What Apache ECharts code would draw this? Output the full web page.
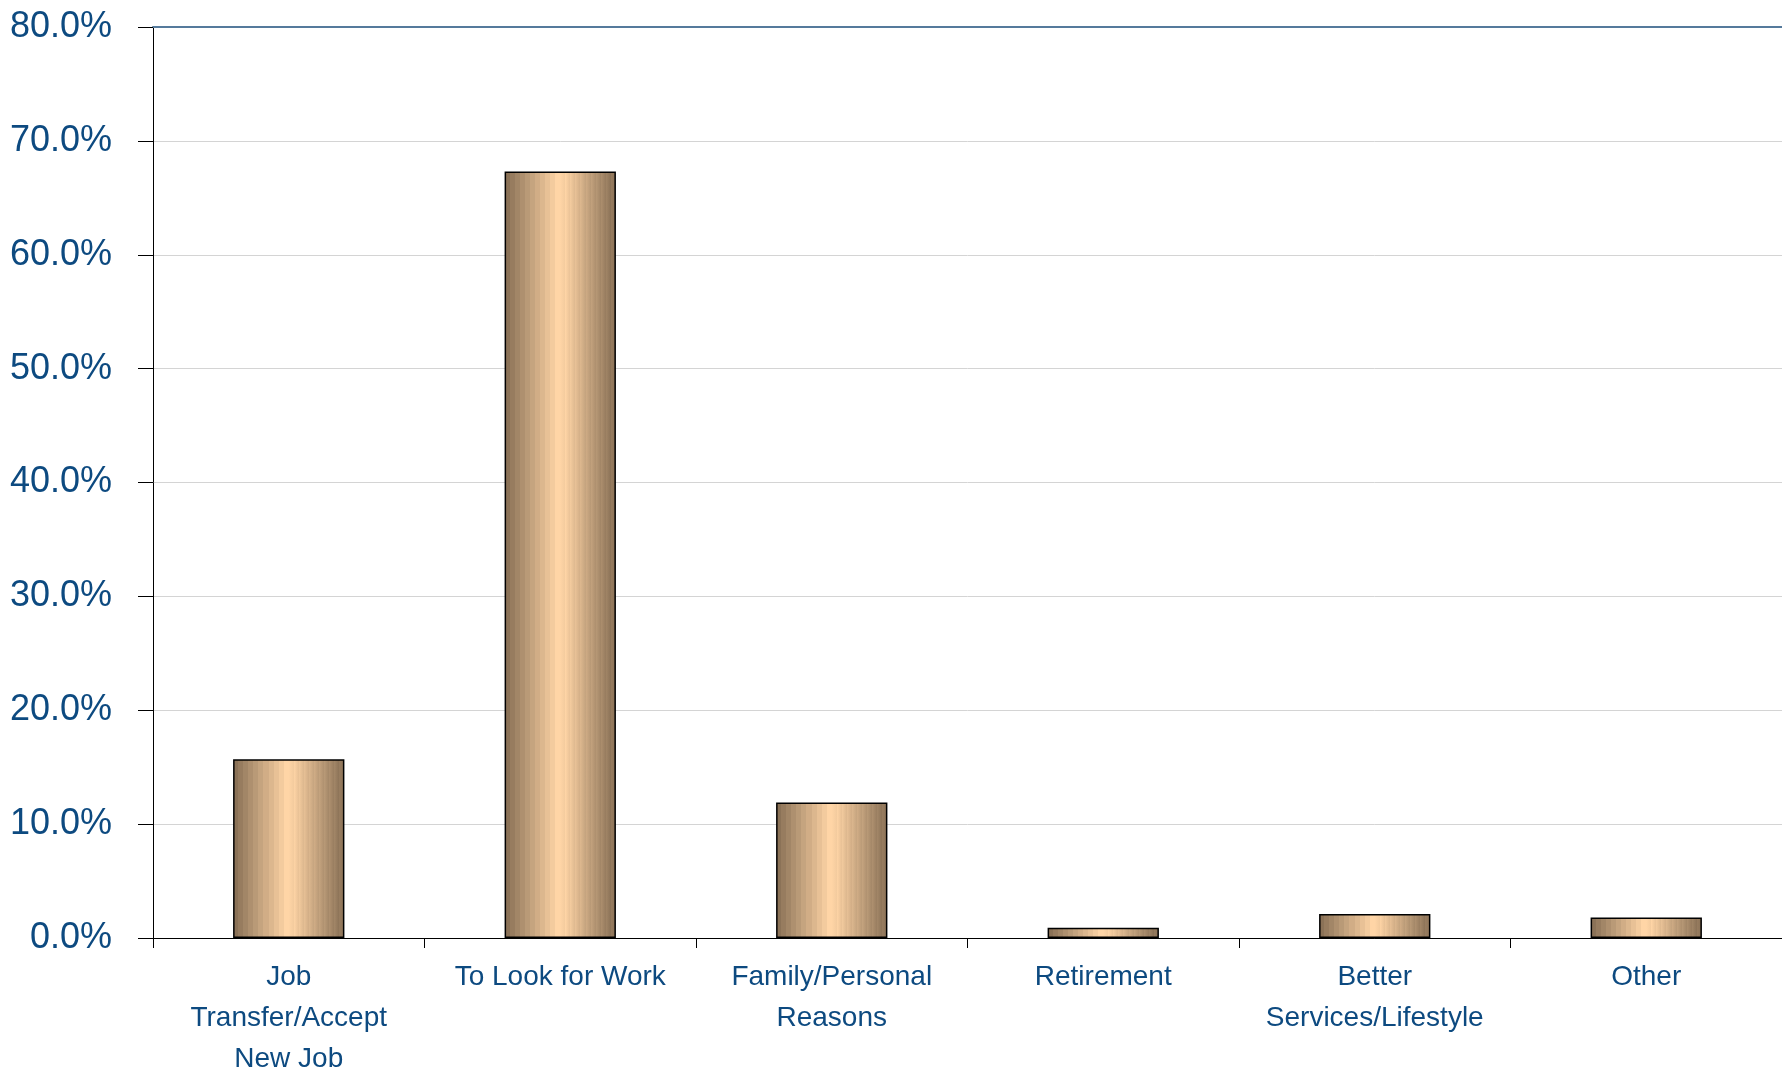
<!DOCTYPE html>
<html>
<head>
<meta charset="utf-8">
<script src="https://cdn.jsdelivr.net/npm/echarts@6/dist/echarts.min.js"></script>
<style>
html,body{margin:0;padding:0;background:#fff;}
#chart{width:1782px;height:1072px;}
</style>
</head>
<body>
<div id="chart"></div>
<script>
var categories = ["Job\nTransfer/Accept\nNew Job", "To Look for Work", "Family/Personal\nReasons", "Retirement", "Better\nServices/Lifestyle", "Other"];
var values = [15.7, 67.3, 11.9, 0.9, 2.1, 1.8];
var yTicks = [0, 10, 20, 30, 40, 50, 60, 70, 80];

var textColor = '#0d4a80';
var fontFam = '"Liberation Sans", Arial, sans-serif';
// stepped cylinder-like gradient
var dark = [139, 114, 87], light = [255, 213, 166];
var stops = [];
var nb = 11;
for (var i = 0; i < nb; i++) {
  var t = i / (nb - 1);
  var c = dark.map(function (d, k) { return Math.round(d + (light[k] - d) * t); });
  var col = 'rgb(' + c.join(',') + ')';
  stops.push({offset: i / (2 * nb), color: col});
  stops.push({offset: (i + 1) / (2 * nb), color: col});
  stops.push({offset: 1 - (i + 1) / (2 * nb), color: col});
  stops.push({offset: 1 - i / (2 * nb), color: col});
}
stops.sort(function (a, b) { return a.offset - b.offset; });

var chart = echarts.init(document.getElementById('chart'));
chart.setOption({
  animation: false,
  backgroundColor: '#fff',
  grid: {left: 153, right: 0, top: 27, bottom: 134, containLabel: false, outerBoundsMode: 'none'},
  xAxis: [{
    type: 'category',
    data: categories,
    axisLine: {lineStyle: {color: '#000', width: 1}},
    axisTick: {show: true, length: 10, lineStyle: {color: '#000'}},
    axisLabel: {
      color: textColor, fontFamily: fontFam,
      fontSize: 28, lineHeight: 41, margin: 19, interval: 0
    }
  }, {
    type: 'category',
    position: 'top',
    data: categories,
    axisLine: {lineStyle: {color: '#557a9c', width: 2}},
    axisTick: {show: false},
    axisLabel: {show: false}
  }],
  yAxis: {
    type: 'value',
    min: yTicks[0], max: yTicks[yTicks.length - 1], interval: 10,
    axisLine: {show: true, lineStyle: {color: '#000', width: 1}},
    axisTick: {show: true, length: 15, lineStyle: {color: '#000'}},
    splitLine: {show: true, lineStyle: {color: '#d4d4d4', width: 1}},
    axisLabel: {
      color: textColor, fontFamily: fontFam,
      fontSize: 36, margin: 41,
      formatter: function (v) { return v.toFixed(1) + '%'; }
    }
  },
  series: [{
    type: 'bar',
    data: values,
    barWidth: '41%',
    itemStyle: {
      color: {type: 'linear', x: 0, y: 0, x2: 1, y2: 0, colorStops: stops},
      borderColor: '#000',
      borderWidth: 1.5
    }
  }]
});
</script>
</body>
</html>
